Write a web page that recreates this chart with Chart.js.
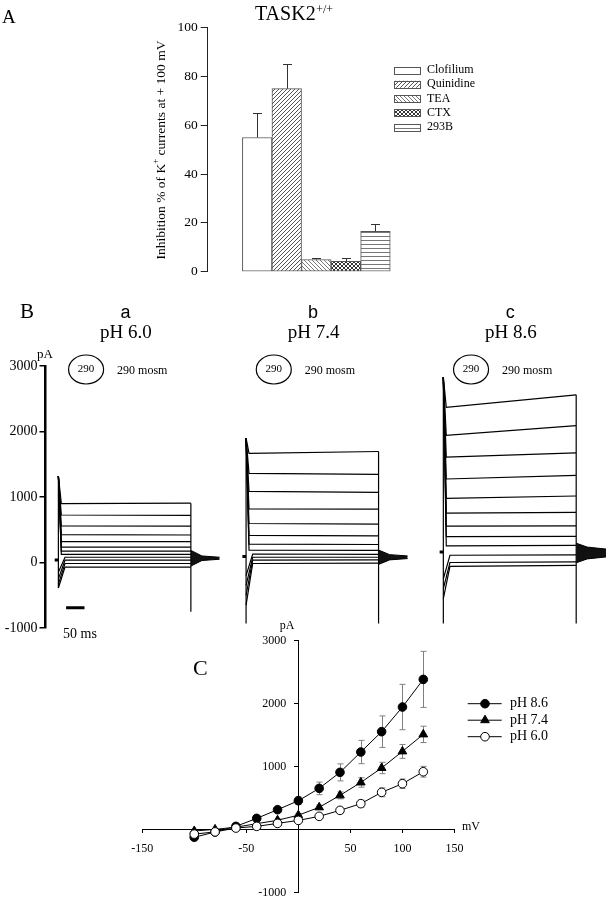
<!DOCTYPE html>
<html><head><meta charset="utf-8"><title>TASK2</title>
<script src="https://cdn.jsdelivr.net/npm/chart.js@4.4.1/dist/chart.umd.min.js"></script>
<style>
html,body{margin:0;padding:0;background:#fff;}
#wrap{position:relative;width:606px;height:899px;overflow:hidden;background:#fff}
#wrap canvas{position:absolute;left:0;top:0}
</style></head><body><div id="wrap">
<canvas id="chartA" width="606" height="899"></canvas>
<canvas id="chartB" width="606" height="899"></canvas>
<canvas id="chartC" width="606" height="899"></canvas>
</div>
<script>
// ================= DATA =================
// Panel A : inhibition (%) of K+ currents at +100 mV
const drugs = ['Clofilium', 'Quinidine', 'TEA', 'CTX', '293B'];
const drugSlots = [1, 2, 3, 4, 5];
const inhibition = [55, 75, 5, 4.2, 16.5];
const inhibitionSem = [10, 10, 0.8, 1.4, 3.1];

// Panel B : current traces (pA) for each pH, time in ms
const groupLetters = ['a', 'b', 'c'];
const groupPH = ['pH 6.0', 'pH 7.4', 'pH 8.6'];
const groupOsm = ['290', '290', '290'];
const stepOnMs = [35, 545, 1081];
const stepOffMs = [395, 905, 1442];
const recordEndMs = [473, 984, 1523];
const holdPA = [38, 90, 160];
const onsetA = [1320, 1320, 1320, 1320, 1320, 1320, 1320, 1320, -150, -250, -330, -390];
const startA = [900, 725, 560, 425, 320, 235, 175, 125, 80, 35, -15, -70];
const endA   = [905, 720, 555, 420, 320, 235, 175, 125, 80, 35, -15, -70];
const onsetB = [1900, 1900, 1900, 1900, 1900, 1900, 1900, 1900, -200, -350, -500, -650];
const startB = [1665, 1360, 1085, 820, 595, 415, 280, 190, 130, 80, 35, -15];
const endB   = [1695, 1345, 1070, 815, 585, 405, 275, 185, 125, 80, 40, -10];
const onsetC = [2830, 2830, 2830, 2830, 2830, 2830, 2830, 2830, 2830, -250, -400, -550];
const startC = [2370, 1940, 1610, 1275, 980, 755, 555, 395, 255, 111, 0, -60];
const endC   = [2560, 2090, 1675, 1330, 1015, 765, 560, 400, 260, 115, 10, -45];
const spikeOnPA = [[-390, 1320], [-930, 1900], [-930, 2830]];
const spikeOffPA = [[-750, 905], [-930, 1695], [-930, 2560]];
const tailCenterPA = [65, 80, 145];
const tailSpreadPA = [[120, 35, 15], [110, 40, 20], [150, 90, 60]];
const scaleBarMs = [56, 106];
const scaleBarPA = -690;

// Panel C : I-V relationship
const voltages = [-100, -80, -60, -40, -20, 0, 20, 40, 60, 80, 100, 120];
const iPH86 = [-120, -37, 53, 180, 317, 460, 656, 910, 1233, 1556, 1947, 2386];
const ePH86 = [15, 10, 20, 25, 40, 60, 100, 135, 185, 250, 360, 445];
const iPH74 = [-20, 5, 40, 95, 150, 230, 355, 545, 750, 980, 1243, 1513];
const ePH74 = [10, 10, 10, 15, 20, 25, 35, 55, 75, 90, 110, 130];
const iPH60 = [-70, -35, 26, 53, 100, 148, 212, 307, 413, 593, 730, 920];
const ePH60 = [10, 10, 10, 15, 20, 25, 30, 45, 55, 70, 75, 85];

// ================= STYLE =================
const SERIF = '"Liberation Serif","Times New Roman",serif';
const SANS = '"Liberation Sans",Arial,sans-serif';
const base = {responsive:false, animation:false, devicePixelRatio:1, events:[],
  plugins:{legend:{display:false}, tooltip:{enabled:false}, title:{display:false}}};

function makePattern(kind){
  if (kind === 'none') return '#ffffff';
  const s = 4, c = document.createElement('canvas'); c.width = s; c.height = s;
  const g = c.getContext('2d'); g.fillStyle = '#fff'; g.fillRect(0,0,s,s);
  g.lineWidth = 1; g.beginPath();
  if (kind === 'fwd') { g.strokeStyle='#555'; g.moveTo(-1,5); g.lineTo(5,-1); g.moveTo(-1,1); g.lineTo(1,-1); g.moveTo(3,5); g.lineTo(5,3); }
  if (kind === 'back') { g.strokeStyle='#777'; g.moveTo(-1,-1); g.lineTo(5,5); g.moveTo(3,-1); g.lineTo(5,1); g.moveTo(-1,3); g.lineTo(1,5); }
  if (kind === 'cross') { g.strokeStyle='#333'; g.moveTo(-1,5); g.lineTo(5,-1); g.moveTo(-1,1); g.lineTo(1,-1); g.moveTo(3,5); g.lineTo(5,3);
                          g.moveTo(-1,-1); g.lineTo(5,5); g.moveTo(3,-1); g.lineTo(5,1); g.moveTo(-1,3); g.lineTo(1,5); }
  if (kind === 'horiz') { g.strokeStyle='#777'; g.moveTo(0,0.5); g.lineTo(4,0.5); }
  g.stroke();
  return g.createPattern(c, 'repeat');
}
const drugFills = [makePattern('none'), makePattern('fwd'), makePattern('back'), makePattern('cross'), makePattern('horiz')];

// ================= PANEL A =================
const errA = {id:'errA', afterDatasetsDraw(ch){
  const c = ch.ctx, xs = ch.scales.x, ys = ch.scales.y;
  c.save(); c.strokeStyle = '#333'; c.lineWidth = 1;
  inhibition.forEach((v,i)=>{
    const x = Math.round(xs.getPixelForValue(drugSlots[i])) + 0.5;
    const y0 = ys.getPixelForValue(v), y1 = Math.round(ys.getPixelForValue(v + inhibitionSem[i])) + 0.5;
    c.beginPath(); c.moveTo(x, y0); c.lineTo(x, y1); c.moveTo(x - 4.5, y1); c.lineTo(x + 4.5, y1); c.stroke();
  });
  c.restore();
}};
const legendA = {id:'legendA', afterDraw(ch){
  const c = ch.ctx; const ds = ch.data.datasets[0];
  c.save(); c.font = '12px ' + SERIF; c.textBaseline = 'middle'; c.textAlign = 'left';
  drugs.forEach((d,i)=>{
    const y = 70 + i*14.25;
    c.fillStyle = ds.backgroundColor[i]; c.fillRect(394.5, y-3.5, 26, 7);
    c.strokeStyle = '#555'; c.lineWidth = 1; c.strokeRect(394.5, Math.round(y-3.5)+0.5, 26, 7);
    c.fillStyle = '#000'; c.fillText(d, 427, y);
  });
  c.restore();
}};
const textA = {id:'textA', afterDraw(ch){
  const c = ch.ctx; c.save(); c.fillStyle = '#000'; c.textAlign='left'; c.textBaseline='alphabetic';
  c.font = '19px ' + SERIF; c.fillText('A', 2, 22.7);
  c.font = '20px ' + SERIF; c.fillText('TASK2', 255, 19.5);
  const w = c.measureText('TASK2').width;
  c.font = '12px ' + SERIF; c.fillText('+/+', 255 + w + 0.5, 12.5);
  c.translate(161, 150); c.rotate(-Math.PI/2); c.textBaseline = 'middle';
  const f1 = '13.5px ' + SERIF, f2 = '9px ' + SERIF;
  const p1 = 'Inhibition % of K', p2 = '+', p3 = ' currents at + 100 mV';
  c.font = f1; const w1 = c.measureText(p1).width, w3 = c.measureText(p3).width;
  c.font = f2; const w2 = c.measureText(p2).width;
  let x = -(w1 + w2 + w3)/2;
  c.font = f1; c.fillText(p1, x, 0); x += w1;
  c.font = f2; c.fillText(p2, x, -5); x += w2;
  c.font = f1; c.fillText(p3, x, 0);
  c.restore();
}};
new Chart(document.getElementById('chartA'), {
  type:'bar',
  data:{datasets:[{label:'Inhibition', data: drugSlots.map((s,i)=>({x:s, y:inhibition[i]})),
    backgroundColor: drugFills, borderColor:'#555', borderWidth:1, borderSkipped:false,
    barPercentage:1, categoryPercentage:1}]},
  options:Object.assign({}, base, {
    layout:{padding:{left:147.7, right:185.8, top:27.7, bottom:627.3}},
    scales:{
      x:{type:'linear', display:false, min:-0.16, max:6, ticks:{stepSize:1, includeBounds:false}},
      y:{min:0, max:100, afterFit(s){ s.width = 60; },
         ticks:{stepSize:20, color:'#000', font:{family:SERIF, size:13.5}, padding:3},
         grid:{drawOnChartArea:false, tickLength:7, color:'#222'}, border:{color:'#222', width:1}}
    }}),
  plugins:[errA, legendA, textA]
});

// ================= PANEL B =================
const bSets = [];
function seg(points, extra){ return Object.assign({data:points, borderColor:'#000', borderWidth:1.2, pointRadius:0, fill:false, tension:0}, extra||{}); }
const traces = [[onsetA, startA, endA], [onsetB, startB, endB], [onsetC, startC, endC]];
traces.forEach((g, gi)=>{
  const t0 = stepOnMs[gi], t1 = stepOffMs[gi], te = recordEndMs[gi];
  const [on, st, en] = g;
  bSets.push(seg([{x:t0-10, y:holdPA[gi]}, {x:t0, y:holdPA[gi]}], {borderWidth:3}));
  bSets.push(seg([{x:t0, y:spikeOnPA[gi][0]}, {x:t0, y:spikeOnPA[gi][1]}]));
  st.forEach((s, i)=>{
    const settle = on[i] > s ? 8 : 18;
    bSets.push(seg([{x:t0, y:on[i]}, {x:t0+settle, y:s}, {x:t1, y:en[i]}]));
  });
  bSets.push(seg([{x:t1, y:spikeOffPA[gi][0]}, {x:t1, y:spikeOffPA[gi][1]}]));
  const cc = tailCenterPA[gi], sp = tailSpreadPA[gi];
  bSets.push(seg([{x:t1, y:cc+sp[0]}, {x:t1+30, y:cc+sp[1]}, {x:te, y:cc+sp[2]}], {borderWidth:1}));
  bSets.push(seg([{x:t1, y:cc-sp[0]}, {x:t1+30, y:cc-sp[1]}, {x:te, y:cc-sp[2]}], {borderWidth:1, fill:'-1', backgroundColor:'#111'}));
});
bSets.push(seg([{x:scaleBarMs[0], y:scaleBarPA}, {x:scaleBarMs[1], y:scaleBarPA}], {borderWidth:3}));

const textB = {id:'textB', afterDraw(ch){
  const c = ch.ctx, xs = ch.scales.x; c.save(); c.fillStyle = '#000'; c.strokeStyle = '#000';
  c.textAlign = 'left'; c.textBaseline = 'alphabetic';
  c.font = '21px ' + SERIF; c.fillText('B', 20, 318);
  c.font = '13px ' + SERIF; c.fillText('pA', 37, 358);
  c.font = '14px ' + SERIF; c.fillText('50 ms', 63, 638);
  stepOnMs.forEach((t0, gi)=>{
    const x0 = xs.getPixelForValue(t0);
    c.textAlign = 'center';
    c.font = '18px ' + SANS; c.fillText(groupLetters[gi], x0 + 67, 318);
    c.font = '19px ' + SERIF; c.fillText(groupPH[gi], x0 + 67.5, 337.5);
    c.lineWidth = 1.2; c.beginPath(); c.ellipse(x0 + 27.7, 369.5, 17.5, 14.5, 0, 0, Math.PI*2); c.stroke();
    c.textBaseline = 'middle'; c.font = '11px ' + SERIF; c.fillText(groupOsm[gi], x0 + 27.7, 369.5);
    c.textAlign = 'left'; c.font = '12px ' + SERIF; c.fillText(groupOsm[gi] + ' mosm', x0 + 58.7, 370.5);
    c.textBaseline = 'alphabetic';
  });
  c.restore();
}};
new Chart(document.getElementById('chartB'), {
  type:'line',
  data:{datasets:bSets},
  options:Object.assign({}, base, {
    layout:{padding:{left:0, right:0, top:366, bottom:271}},
    scales:{
      x:{type:'linear', display:false, min:0, max:1523},
      y:{type:'linear', min:-1000, max:3000, afterFit(s){ s.width = 45.5; },
         ticks:{stepSize:1000, color:'#000', font:{family:SERIF, size:14}, padding:2, callback:(v)=>String(v)},
         grid:{drawOnChartArea:false, tickLength:6, color:'#000', lineWidth:1.5}, border:{color:'#000', width:2.5}}
    }}),
  plugins:[textB]
});

// ================= PANEL C =================
const errC = {id:'errC', beforeDatasetsDraw(ch){
  const c = ch.ctx, xs = ch.scales.x, ys = ch.scales.y;
  c.save(); c.strokeStyle = '#808080'; c.lineWidth = 1;
  ch.data.datasets.forEach(ds=>{
    ds.data.forEach((p, i)=>{
      const e = ds.errors[i]; const x = Math.round(xs.getPixelForValue(p.x)) + 0.5;
      const yt = ys.getPixelForValue(p.y + e), yb = ys.getPixelForValue(p.y - e);
      c.beginPath(); c.moveTo(x, yt); c.lineTo(x, yb);
      c.moveTo(x-3, yt); c.lineTo(x+3, yt); c.moveTo(x-3, yb); c.lineTo(x+3, yb); c.stroke();
    });
  });
  c.restore();
}};
const legendC = {id:'legendC', afterDraw(ch){
  const c = ch.ctx; c.save();
  const order = [2, 1, 0];
  order.forEach((di, r)=>{
    const ds = ch.data.datasets[di]; const y = 703.7 + r*16.5;
    c.strokeStyle = '#000'; c.lineWidth = 1; c.beginPath(); c.moveTo(467.7, y); c.lineTo(501.7, y); c.stroke();
    c.fillStyle = ds.pointBackgroundColor; c.strokeStyle = '#000';
    Chart.helpers.drawPoint(c, {pointStyle: ds.pointStyle, radius: ds.pointRadius, rotation:0, borderWidth:1}, 485, y);
    c.fillStyle = '#000'; c.font = '14px ' + SERIF; c.textAlign = 'left'; c.textBaseline = 'middle';
    c.fillText(ds.label, 510, y);
  });
  c.restore();
}};
const textC = {id:'textC', afterDraw(ch){
  const c = ch.ctx; c.save(); c.fillStyle = '#000';
  c.textAlign = 'left'; c.textBaseline = 'alphabetic';
  c.font = '22px ' + SERIF; c.fillText('C', 193, 675);
  c.font = '12px ' + SERIF; c.textAlign = 'center'; c.textBaseline = 'middle';
  c.fillText('pA', 287, 626);
  c.textAlign = 'left'; c.fillText('mV', 462, 827);
  c.restore();
}};
function ivSet(label, vals, errs, style, fillCol, r){
  return {label, data: voltages.map((v,i)=>({x:v, y:vals[i]})), errors: errs,
    borderColor:'#000', borderWidth:1, pointStyle: style, pointRadius: r, pointBackgroundColor: fillCol,
    pointBorderColor:'#000', pointBorderWidth:1, fill:false, tension:0};
}
new Chart(document.getElementById('chartC'), {
  type:'line',
  data:{datasets:[
    ivSet('pH 6.0', iPH60, ePH60, 'circle', '#fff', 4.3),
    ivSet('pH 7.4', iPH74, ePH74, 'triangle', '#000', 5),
    ivSet('pH 8.6', iPH86, ePH86, 'circle', '#000', 4.3)
  ]},
  options:Object.assign({}, base, {
    layout:{padding:{left:142.2, right:151.5, top:640.7, bottom:6.3}},
    scales:{
      x:{type:'linear', position:{y:0}, min:-150, max:150,
         afterFit(s){ s.height = 0; s.paddingLeft = 0; s.paddingRight = 0; s.paddingTop = 0; s.paddingBottom = 0; },
         ticks:{stepSize:50, color:'#000', font:{family:SERIF, size:12}, padding:9, maxRotation:0,
                callback:(v)=> (v === 0 || v === -100) ? '' : String(v)},
         grid:{drawOnChartArea:false, tickLength:3, color:'#000'}, border:{color:'#000', width:1}},
      y:{type:'linear', position:{x:0}, min:-1000, max:3000,
         afterFit(s){ s.width = 0; s.paddingLeft = 0; s.paddingRight = 0; s.paddingTop = 0; s.paddingBottom = 0; },
         ticks:{stepSize:1000, color:'#000', font:{family:SERIF, size:12}, padding:5,
                callback:(v)=> v === 0 ? '' : String(v) + '\u2002\u2002'},
         grid:{drawOnChartArea:false, tickLength:4, color:'#000'}, border:{color:'#000', width:1}}
    }}),
  plugins:[errC, legendC, textC]
});
</script></body></html>
